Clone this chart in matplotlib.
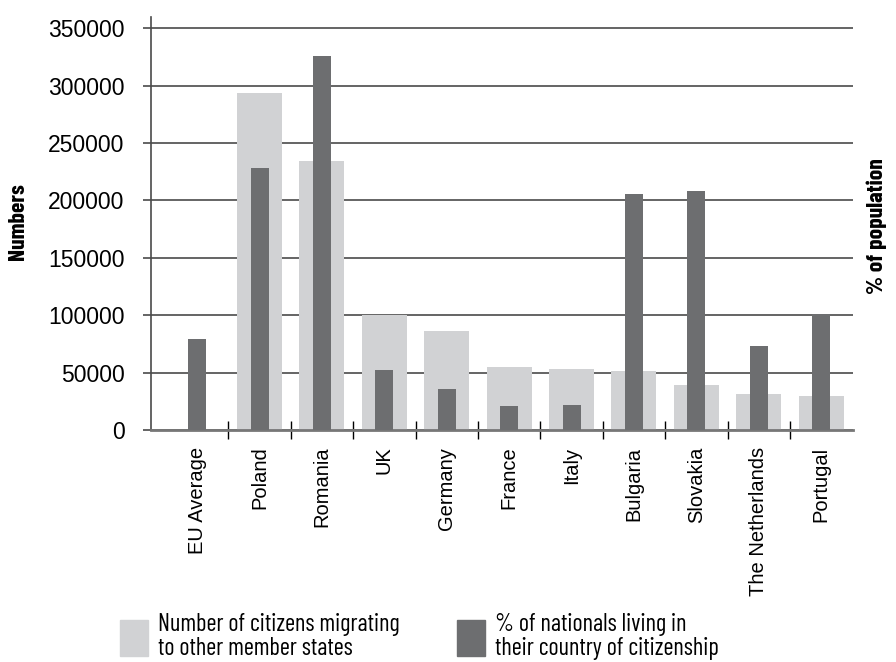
import matplotlib.pyplot as plt
import numpy as np
from matplotlib.patches import Patch

# data
countries = ['EU Average', 'Poland', 'Romania', 'UK', 'Germany', 'France',
             'Italy', 'Bulgaria', 'Slovakia', 'The Netherlands', 'Portugal']
migrants = [0, 294000, 234000, 100000, 86000, 55000, 53500, 51500, 39500, 31500, 29700]
pct_nationals = [0.79, 2.28, 3.26, 0.52, 0.36, 0.21, 0.22, 2.06, 2.08, 0.73, 1.01]
yticks = [0, 50000, 100000, 150000, 200000, 250000, 300000, 350000]

light = '#d1d2d4'
dark = '#6d6e70'
line = '#4a4a4a'

plt.rcParams['font.family'] = ['Liberation Sans', 'DejaVu Sans']
narrow = ['Barlow Condensed', 'DejaVu Sans']

fig = plt.figure(figsize=(8.96, 6.62), dpi=100)
ax = fig.add_axes([0.1685, 0.3505, 0.7835, 0.624])
ax2 = ax.twinx()

x = np.arange(len(countries))
ax.bar(x, migrants, width=0.72, color=light, zorder=2)
ax2.bar(x, pct_nationals, width=0.29, color=dark, zorder=3)

ax.set_xlim(-0.74, len(countries) - 0.49)
ax.set_ylim(0, 360000)
ax2.set_ylim(0, 3.6)

ax.set_yticks(yticks)
ax.set_yticklabels([str(v) for v in yticks], fontsize=16.5)
ax.yaxis.grid(True, color=line, linewidth=1.2, zorder=0)
ax.set_axisbelow(True)
ax.tick_params(axis='y', length=6, width=1.2, color=line, pad=13)

ax.set_xticks(x)
ax.set_xticklabels(countries, rotation=90, fontsize=14.5)
ax.tick_params(axis='x', length=0, pad=12)
ax.set_xticks(x[:-1] + 0.5, minor=True)
ax.tick_params(axis='x', which='minor', direction='inout', length=13, width=1, color='black')

ax2.set_yticks([])
for a in (ax, ax2):
    for s in ('top', 'right', 'left', 'bottom'):
        a.spines[s].set_visible(False)
ax.spines['left'].set_visible(True)
ax.spines['left'].set_color(line)
ax.spines['left'].set_linewidth(1.2)
ax.spines['bottom'].set_visible(True)
ax.spines['bottom'].set_color('#777777')
ax.spines['bottom'].set_linewidth(2)

fig.text(0.0205, 0.665, 'Numbers', rotation=90, fontsize=17, fontweight='bold',
         family=narrow, ha='center', va='center')
fig.text(0.979, 0.659, '% of population', rotation=90, fontsize=17, fontweight='bold',
         family=narrow, ha='center', va='center')

labels = ['Number of citizens migrating\nto other member states',
          '% of nationals living in\ntheir country of citizenship']
for col, lab, x0 in zip((light, dark), labels, (120, 457)):
    leg = fig.legend([Patch(color=col)], [lab], loc='lower left',
                     bbox_to_anchor=(x0 / 896, 0.003), frameon=False, borderpad=0,
                     borderaxespad=0, handlelength=1.15, handleheight=1.9,
                     handletextpad=0.4, prop={'family': narrow, 'size': 17.5})
    for t in leg.get_texts():
        t.set_linespacing(1.05)

fig.savefig('out.png', dpi=100)
